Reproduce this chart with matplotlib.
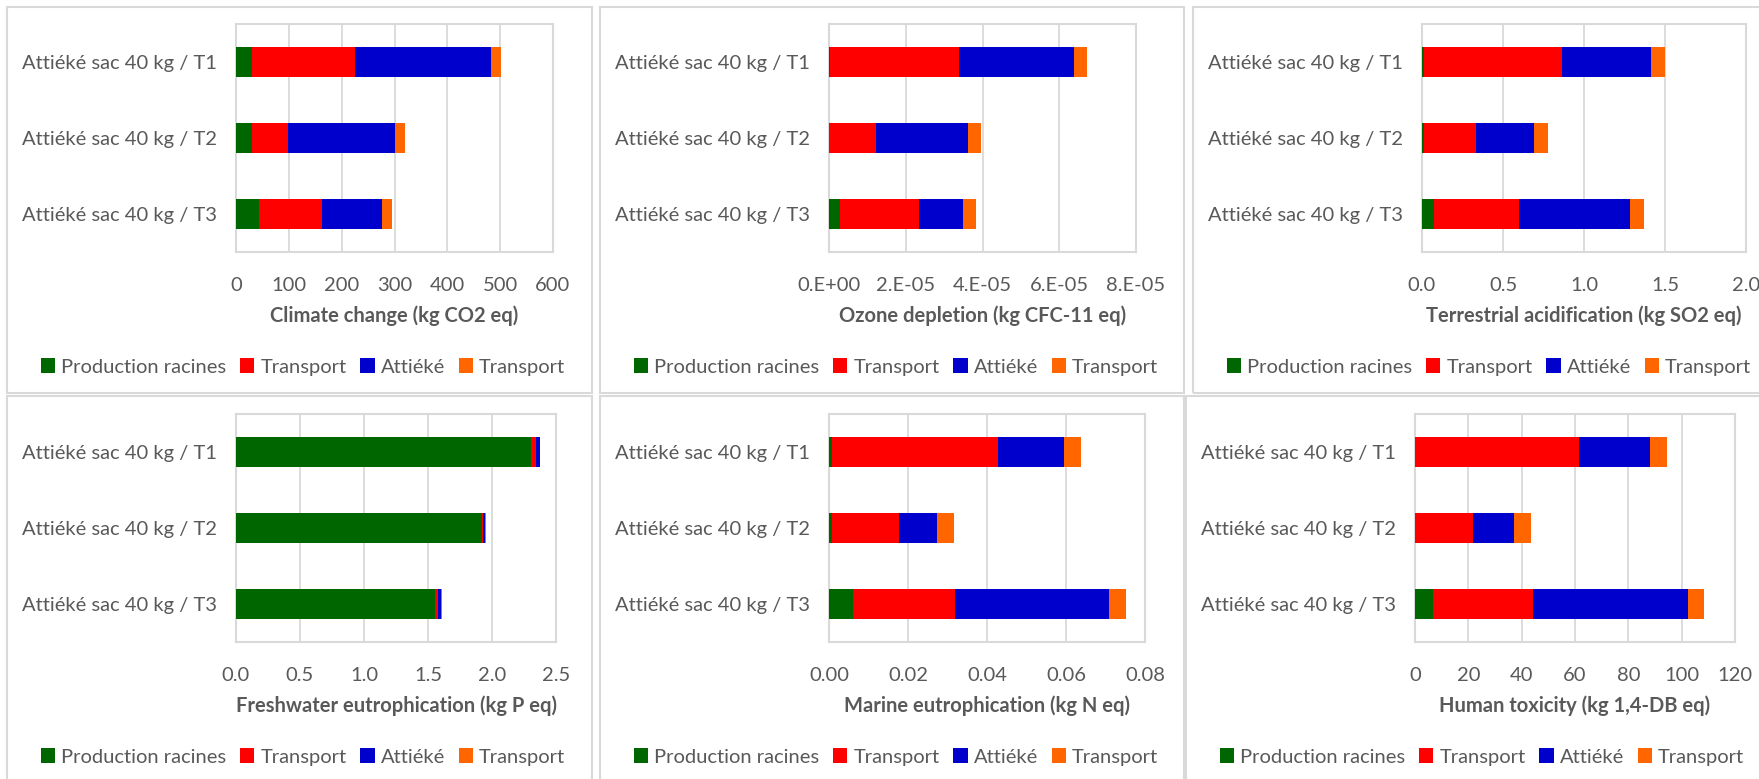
import matplotlib
matplotlib.use("Agg")
import matplotlib.pyplot as plt
from matplotlib.patches import Rectangle
from matplotlib.ticker import FuncFormatter, MultipleLocator

plt.rcParams['font.family'] = ['Lato', 'DejaVu Sans']

W, H = 1759, 779

categories = ["Attiéké sac 40 kg / T1", "Attiéké sac 40 kg / T2", "Attiéké sac 40 kg / T3"]
series_names = ["Production racines", "Transport", "Attiéké", "Transport"]
series_colors = ["#006600", "#FF0000", "#0000CC", "#FF6600"]

# stage contributions per scenario: [T1, T2, T3]
climate_prod = [31, 31, 44]
climate_transp1 = [194, 67, 118]
climate_attieke = [257, 202, 115]
climate_transp2 = [19, 20, 19]

ozone_prod = [0.02e-5, 0.0, 0.29e-5]
ozone_transp1 = [3.36e-5, 1.22e-5, 2.06e-5]
ozone_attieke = [3.00e-5, 2.39e-5, 1.14e-5]
ozone_transp2 = [0.34e-5, 0.34e-5, 0.34e-5]

acid_prod = [0.011, 0.011, 0.075]
acid_transp1 = [0.852, 0.325, 0.521]
acid_attieke = [0.553, 0.356, 0.689]
acid_transp2 = [0.084, 0.084, 0.085]

fresh_prod = [2.305, 1.922, 1.552]
fresh_transp1 = [0.041, 0.009, 0.026]
fresh_attieke = [0.029, 0.017, 0.027]
fresh_transp2 = [0.003, 0.002, 0.003]

marine_prod = [0.0007, 0.0007, 0.0060]
marine_transp1 = [0.0422, 0.0169, 0.0260]
marine_attieke = [0.0165, 0.0098, 0.0390]
marine_transp2 = [0.0043, 0.0042, 0.0042]

tox_prod = [0.1, 0.0, 6.6]
tox_transp1 = [61.4, 21.8, 37.8]
tox_attieke = [26.8, 15.5, 57.8]
tox_transp2 = [6.3, 6.2, 6.2]

panels = [
    dict(data=[climate_prod, climate_transp1, climate_attieke, climate_transp2],
         xlabel="Climate change (kg CO2 eq)", xmax=600, step=100,
         fmt=lambda v, p: f"{v:.0f}",
         box=(7, 7, 592, 393), plot=(236, 24, 553, 252), leg=(303, 367)),
    dict(data=[ozone_prod, ozone_transp1, ozone_attieke, ozone_transp2],
         xlabel="Ozone depletion (kg CFC-11 eq)", xmax=8e-5, step=2e-5,
         fmt=lambda v, p: f"{v:#.0E}",
         box=(600, 7, 1184, 393), plot=(829, 24, 1136, 252), leg=(896, 367)),
    dict(data=[acid_prod, acid_transp1, acid_attieke, acid_transp2],
         xlabel="Terrestrial acidification (kg SO2 eq)", xmax=2.0, step=0.5,
         fmt=lambda v, p: f"{v:.1f}",
         box=(1193, 7, 1775, 393), plot=(1422, 24, 1746, 252), leg=(1489, 367)),
    dict(data=[fresh_prod, fresh_transp1, fresh_attieke, fresh_transp2],
         xlabel="Freshwater eutrophication (kg P eq)", xmax=2.5, step=0.5,
         fmt=lambda v, p: f"{v:.1f}",
         box=(7, 396, 592, 790), plot=(236, 414, 556, 642), leg=(303, 757)),
    dict(data=[marine_prod, marine_transp1, marine_attieke, marine_transp2],
         xlabel="Marine eutrophication (kg N eq)", xmax=0.08, step=0.02,
         fmt=lambda v, p: f"{v:.2f}",
         box=(600, 396, 1184, 790), plot=(829, 414, 1145, 642), leg=(896, 757)),
    dict(data=[tox_prod, tox_transp1, tox_attieke, tox_transp2],
         xlabel="Human toxicity (kg 1,4-DB eq)", xmax=120, step=20,
         fmt=lambda v, p: f"{v:.0f}",
         box=(1186, 396, 1775, 790), plot=(1415, 414, 1735, 642), leg=(1482, 757)),
]

text_color = "#595959"
grid_color = "#D9D9D9"
fs = 14.5

fig = plt.figure(figsize=(W / 100, H / 100), dpi=100)
fig.patch.set_facecolor("white")

for pnl in panels:
    bx0, by0, bx1, by1 = pnl["box"]
    fig.add_artist(Rectangle((bx0 / W, 1 - by1 / H), (bx1 - bx0) / W, (by1 - by0) / H,
                             transform=fig.transFigure, fill=False,
                             edgecolor=grid_color, linewidth=1.5))
    x0, y0, x1, y1 = pnl["plot"]
    ax = fig.add_axes([x0 / W, 1 - y1 / H, (x1 - x0) / W, (y1 - y0) / H])
    ypos = list(range(len(categories)))
    left = [0.0] * len(categories)
    handles = []
    for vals, name, col in zip(pnl["data"], series_names, series_colors):
        b = ax.barh(ypos, vals, left=left, height=0.4, color=col, label=name,
                    edgecolor="none", zorder=3)
        handles.append(b)
        left = [l + v for l, v in zip(left, vals)]
    ax.set_ylim(2.5, -0.5)
    ax.set_xlim(0, pnl["xmax"])
    ax.xaxis.set_major_locator(MultipleLocator(pnl["step"]))
    ax.xaxis.set_major_formatter(FuncFormatter(pnl["fmt"]))
    ax.set_yticks(ypos)
    ax.set_yticklabels(categories)
    ax.tick_params(axis="both", length=0, labelsize=fs, colors=text_color)
    ax.tick_params(axis="x", pad=18)
    ax.tick_params(axis="y", pad=14)
    ax.grid(axis="x", color=grid_color, linewidth=1.3, zorder=0)
    for s in ax.spines.values():
        s.set_color(grid_color)
        s.set_linewidth(1.5)
    ax.set_xlabel(pnl["xlabel"], fontsize=fs, fontweight="bold", color=text_color, labelpad=8)
    lx, ly = pnl["leg"]
    ax.legend(handles=handles, loc="center", bbox_to_anchor=(lx / W, 1 - ly / H),
              bbox_transform=fig.transFigure, ncol=4, frameon=False,
              fontsize=fs, handlelength=0.7, handleheight=0.7,
              handletextpad=0.3, columnspacing=0.7, labelcolor=text_color)

fig.savefig("out.png", dpi=100, facecolor="white")
